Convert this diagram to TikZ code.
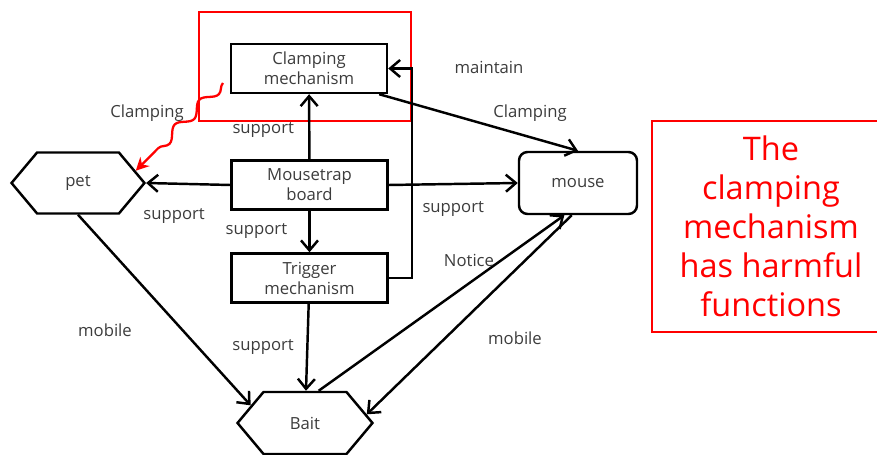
\documentclass[tikz,border=0pt]{standalone}
\usepackage{fontspec}
\setmainfont{Open Sans}
\usetikzlibrary{positioning, shapes, shapes.symbols, arrows.meta, calc, decorations.pathmorphing}
\definecolor{mtInk}{HTML}{000000}
\definecolor{mtText}{HTML}{3C3C3C}
\definecolor{mtHarm}{HTML}{FF0000}
\tikzset{
    mtBoxBase/.style={
        rectangle,
        draw=mtInk,
        line width=1.4pt,
        minimum width=3.12cm,
        minimum height=0.98cm,
        font=\fontsize{9.5}{11.4}\selectfont,
        text=mtText,
        align=center,
        inner sep=2pt
    },
    % Shape variants
    part/.style={mtBoxBase},
    hexpart/.style={mtBoxBase, signal, signal to=west and east, signal pointer angle=100,
        minimum width=2.66cm, minimum height=1.22cm},
    softpart/.style={mtBoxBase, rounded corners=0.17cm, minimum width=2.36cm, minimum height=1.24cm},
    % Arrows
    mtArrowBase/.style={-{Straight Barb[length=2mm, width=3.4mm]}, line width=1.4pt, draw=mtInk},
    mtLabel/.style={
        font=\fontsize{9.5}{11.4}\selectfont,
        text=mtText,
        inner sep=1pt
    }
}
\begin{document}
\begin{tikzpicture}[
    x=0.02cm, y=-0.02cm,
    arr/.style={mtArrowBase},
    harmful/.style={-{Stealth[length=2.6mm, width=2.6mm]}, line width=1.3pt, draw=mtHarm}
]
\useasboundingbox (0,0) rectangle (877,455);

\node[part] (clamp) at (309,68.5) {Clamping\\mechanism};
\node[part] (board) at (309.5,185) {Mousetrap\\board};
\node[part] (trigger) at (309.5,278) {Trigger\\mechanism};
\node[hexpart] (pet) at (78,183) {pet};
\node[softpart] (mouse) at (578,183) {mouse};
\node[hexpart, minimum width=2.7cm, minimum height=1.24cm] (bait) at (305,423) {Bait};

\draw[mtHarm, line width=1.2pt] (199,12) rectangle (411,121);
\node[draw=mtHarm, line width=1.2pt, text=mtHarm, font=\fontsize{18.5}{22.2}\selectfont,
    align=center, minimum width=4.76cm, minimum height=4.22cm] (harm) at (771,226.5)
    {The\\clamping\\mechanism\\has harmful\\functions};

\draw[arr] (board) -- node[mtLabel, left=7pt, pos=0.45] {support} (clamp);
\draw[arr] (board.west) -- node[mtLabel, below=12pt, xshift=-8pt] {support} (pet.east);
\draw[arr] (board) -- node[mtLabel, left=11pt] {support} (trigger);
\draw[arr] (board.east) -- node[mtLabel, below=8pt] {support} (mouse.west);
\draw[arr] (trigger.east) -| ($(clamp.east)+(24,0)$) -- (clamp.east);
\draw[arr] ($(clamp.south east)+(-9,0)$) -- (mouse.north);
\draw[arr] (trigger) -- node[mtLabel, left=6pt] {support} (bait);
\draw[arr] (pet.south) -- (bait.162);
\draw[arr] (bait.67) -- (mouse.247);
\draw[arr] (mouse.259) -- (bait.8);

\coordinate (squiggle) at (223,83);
\draw[harmful, decorate, decoration={snake, amplitude=1mm, segment length=7mm, post length=3.5mm}]
    (squiggle) -- (pet.12);

\node[mtLabel] (maintainlbl) at (489,67) {maintain};
\node[mtLabel] (clamplbl) at (530,113) {Clamping};
\node[mtLabel] (harmlbl) at (147,113) {Clamping};
\node[mtLabel] (noticelbl) at (469,260) {Notice};
\node[mtLabel] (petmobile) at (105,330) {mobile};
\node[mtLabel] (mousemobile) at (515,338) {mobile};
\end{tikzpicture}
\end{document}
